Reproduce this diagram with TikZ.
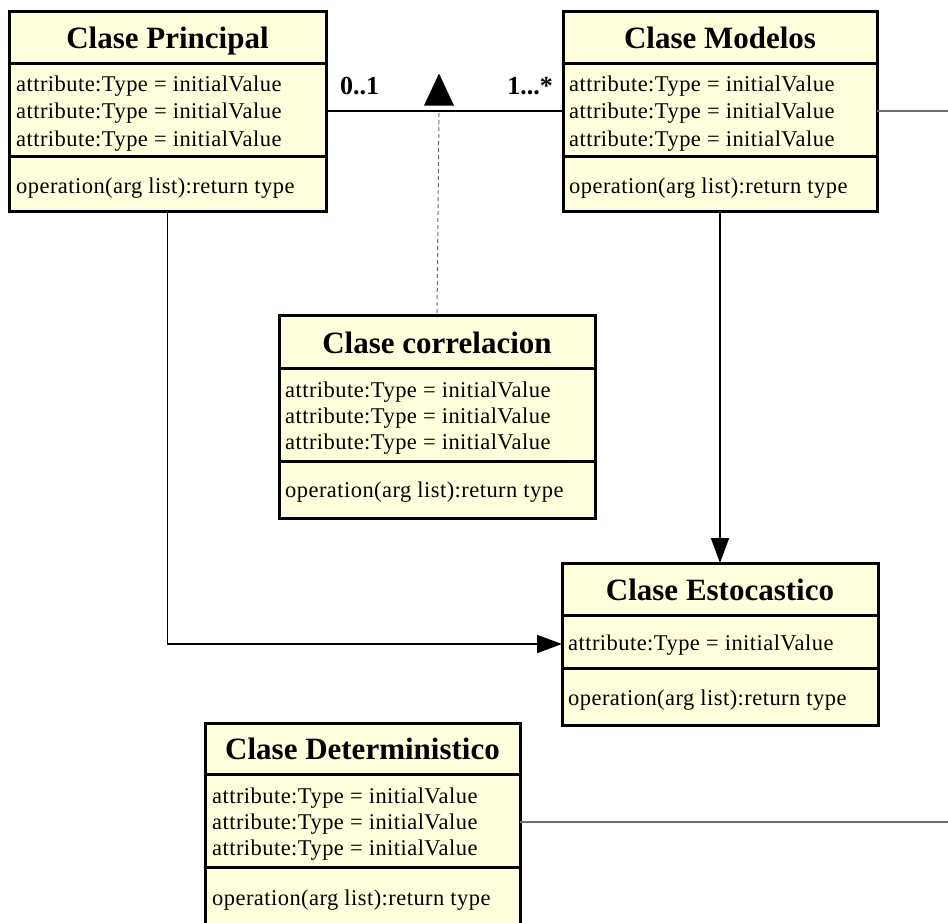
\documentclass[tikz,border=0pt]{standalone}
\usepackage{fontspec}
\setmainfont{Liberation Serif}
\newfontfamily\memberfont[LetterSpace=2]{Liberation Serif}
\usetikzlibrary{arrows.meta,shapes.geometric}
\definecolor{umlfill}{RGB}{255,255,222}
\definecolor{linkgray}{RGB}{110,110,110}

% name, left, top, right, bottom, first divider, second divider, title
\newcommand\umlclass[8]{%
  \node[classbox, minimum width={#4-#2}, minimum height={#5-#3}] (#1) at ({(#2+#4)/2},{(#3+#5)/2}) {};
  \draw[divider] (#2,#6) -- (#4,#6);
  \draw[divider] (#2,#7) -- (#4,#7);
  \node[ctitle] (#1-title) at ({(#2+#4)/2},{#6-15}) {#8};
}

\begin{document}
\begin{tikzpicture}[x=1pt,y=-1pt,
  classbox/.style={draw=black, line width=3pt, fill=umlfill, inner sep=0pt, outer sep=0pt},
  divider/.style={line width=3pt},
  ctitle/.style={font=\fontsize{31}{31}\selectfont\bfseries, inner sep=0pt, anchor=base},
  cline/.style={font=\memberfont\fontsize{22.5}{22.5}\selectfont, inner sep=0pt, anchor=base west},
  mult/.style={font=\fontsize{26}{26}\selectfont\bfseries, inner sep=0pt},
  assoc/.style={line width=1.5pt, black},
  sidelink/.style={line width=1.5pt, linkgray},
  deplink/.style={line width=1pt, linkgray, dash pattern=on 4pt off 3pt},
  navarrow/.style={line width=1.5pt, black, -{Triangle[length=25pt,width=18pt]}},
  dirmark/.style={isosceles triangle, shape border rotate=90, isosceles triangle stretches,
    minimum width=30pt, minimum height=32pt, inner sep=0pt, fill=black, draw=none}
]
\useasboundingbox (0,0) rectangle (948,922);
\clip (0,0) rectangle (948,922);

% free ends of links
\coordinate (assocmid) at (439,111);
\coordinate (modelos-out) at (948,111);
\coordinate (determ-out) at (948,822);

% Clase Principal
\umlclass{principal}{9}{11}{326}{211}{63}{156}{Clase Principal}
\node[cline] (principal-a1) at (16,91) {attribute:Type = initialValue};
\node[cline] (principal-a2) at (16,118) {attribute:Type = initialValue};
\node[cline] (principal-a3) at (16,146) {attribute:Type = initialValue};
\node[cline] (principal-op) at (16,193) {operation(arg list):return type};

% Clase Modelos
\umlclass{modelos}{563}{11}{877}{211}{63}{156}{Clase Modelos}
\node[cline] (modelos-a1) at (569,91) {attribute:Type = initialValue};
\node[cline] (modelos-a2) at (569,118) {attribute:Type = initialValue};
\node[cline] (modelos-a3) at (569,146) {attribute:Type = initialValue};
\node[cline] (modelos-op) at (569,193) {operation(arg list):return type};

% Clase correlacion
\umlclass{correl}{279}{315}{595}{518}{368}{461}{Clase correlacion}
\node[cline] (correl-a1) at (285,397) {attribute:Type = initialValue};
\node[cline] (correl-a2) at (285,423) {attribute:Type = initialValue};
\node[cline] (correl-a3) at (285,449) {attribute:Type = initialValue};
\node[cline] (correl-op) at (285,497) {operation(arg list):return type};

% Clase Estocastico
\umlclass{estoc}{562}{563}{878}{725}{615}{668}{Clase Estocastico}
\node[cline] (estoc-a1) at (568,650) {attribute:Type = initialValue};
\node[cline] (estoc-op) at (568,705) {operation(arg list):return type};

% Clase Deterministico
\umlclass{determ}{205}{723}{520}{925}{774}{867}{Clase Deterministico}
\node[cline] (determ-a1) at (212,803) {attribute:Type = initialValue};
\node[cline] (determ-a2) at (212,829) {attribute:Type = initialValue};
\node[cline] (determ-a3) at (212,855) {attribute:Type = initialValue};
\node[cline] (determ-op) at (212,905) {operation(arg list):return type};

% association with multiplicities and direction mark
\draw[assoc] (principal.east) -- (modelos.west);
\node[mult, anchor=base west] (mult-left) at (340,94) {0..1};
\node[mult, anchor=base east] (mult-right) at (553,94) {1...*};
\node[dirmark, anchor=apex] (dir) at (439,73) {};
\draw[deplink] ([yshift=-2pt]assocmid) -- (correl.north);

% outgoing links on the right
\draw[sidelink] (modelos.east) -- (modelos-out);
\draw[sidelink] (determ.east |- determ-out) -- (determ-out);

% navigable associations into Clase Estocastico
\draw[navarrow] (modelos.south) -- (estoc.north);
\draw[navarrow] (principal.south) |- (estoc.west);
\end{tikzpicture}
\end{document}
